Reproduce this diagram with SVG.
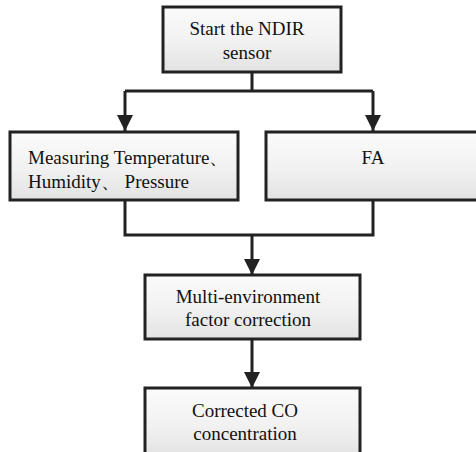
<svg xmlns="http://www.w3.org/2000/svg" width="476" height="452" viewBox="0 0 476 452">
<defs>
<linearGradient id="g" x1="0" y1="0" x2="0" y2="1">
<stop offset="0" stop-color="#fbfbfb"/>
<stop offset="0.55" stop-color="#f1f1f1"/>
<stop offset="1" stop-color="#e2e2e2"/>
</linearGradient>
<marker id="ah" viewBox="0 0 16 16" refX="16" refY="8" markerWidth="16" markerHeight="16" markerUnits="userSpaceOnUse" orient="auto">
<path d="M0,0 L16,8 L0,16 Z" fill="#222"/>
</marker>
<style>
.box{fill:url(#g);stroke:#222;stroke-width:3}
.t{font-family:"Liberation Serif","Times New Roman",serif;font-size:19px;fill:#111}
.c{text-anchor:middle}
.ln{fill:none;stroke:#222;stroke-width:3}
</style>
</defs>
<rect width="476" height="452" fill="#ffffff"/>
<g id="connectors">
<path class="ln" d="M252,72 V91 M125,91 H373"/>
<path class="ln" d="M125,91 V131" marker-end="url(#ah)"/>
<path class="ln" d="M373,91 V131" marker-end="url(#ah)"/>
<path class="ln" d="M125,200 V235 H373 V200"/>
<path class="ln" d="M252,235 V275" marker-end="url(#ah)"/>
<path class="ln" d="M252,339 V388" marker-end="url(#ah)"/>
</g>
<g id="start">
<rect class="box" x="163" y="7" width="178" height="65"/>
<text class="t c" x="247" y="35">Start the NDIR</text>
<text class="t c" x="247" y="59">sensor</text>
</g>
<g id="measure">
<rect class="box" x="10" y="132" width="228" height="68"/>
<text class="t" x="28" y="164">Measuring Temperature、</text>
<text class="t" x="28" y="188">Humidity、 Pressure</text>
</g>
<g id="fa">
<rect class="box" x="266" y="132" width="214" height="68"/>
<text class="t c" x="373" y="164">FA</text>
</g>
<g id="multi">
<rect class="box" x="145" y="275" width="215" height="64"/>
<text class="t c" x="248" y="303">Multi-environment</text>
<text class="t c" x="248" y="326">factor correction</text>
</g>
<g id="corrected">
<rect class="box" x="145" y="388" width="215" height="70"/>
<text class="t c" x="245" y="417">Corrected CO</text>
<text class="t c" x="245" y="440">concentration</text>
</g>
</svg>
